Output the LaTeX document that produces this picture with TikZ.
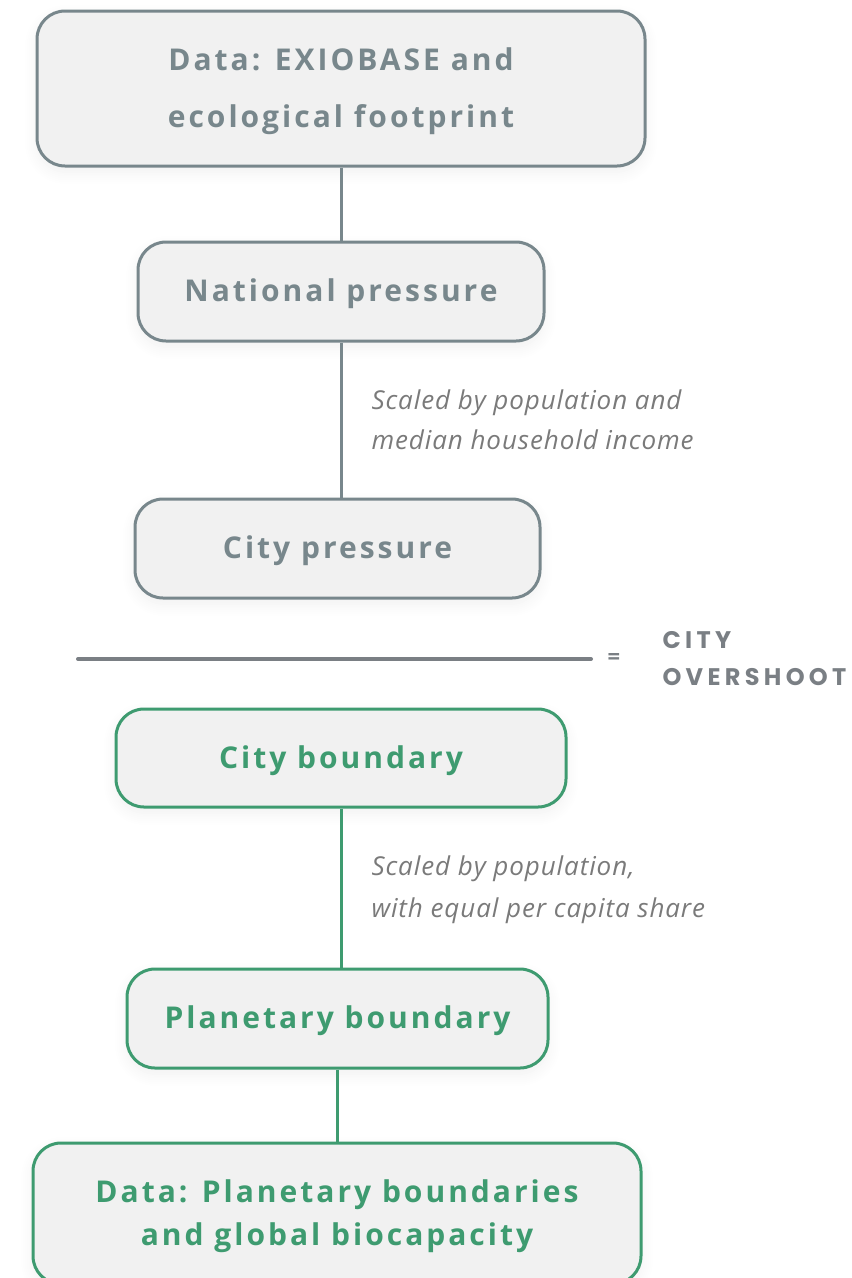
\documentclass[tikz,border=0pt]{standalone}
\usepackage{fontspec}
\setmainfont{Open Sans}
\newfontfamily\boxfont[LetterSpace=10]{Open Sans}
\newfontfamily\notefont[LetterSpace=3.5]{Open Sans}
\newfontfamily\capsfont[LetterSpace=18]{Poppins}
\usetikzlibrary{calc, shadows.blur}
\definecolor{slate}{RGB}{120,135,140}
\definecolor{leaf}{RGB}{62,155,112}
\definecolor{paper}{RGB}{241,241,241}
\definecolor{note}{RGB}{122,122,122}
\definecolor{rule}{RGB}{122,127,132}

\begin{document}
\begin{tikzpicture}[x=1pt,y=-1pt,
		stage/.style={draw, fill=paper, line width=3pt, rounded corners=28pt,
			blur shadow={shadow xshift=0pt, shadow yshift=-6pt, shadow blur radius=14pt,
				shadow opacity=6, shadow blur steps=8},
			align=center, inner sep=0pt, execute at begin node={\rule{0pt}{28pt}},
			font=\boxfont\bfseries\fontsize{30}{57}\selectfont},
		two lines/.style={text depth=2pt},
		grey stage/.style={stage, draw=slate, text=slate},
		green stage/.style={stage, draw=leaf, text=leaf},
		link/.style={line width=3pt},
		remark/.style={anchor=west, align=left, text=note,
			font=\notefont\itshape\fontsize{26}{40}\selectfont}]
		\useasboundingbox (0,0) rectangle (852,1278);
		% pressure side
		\node[grey stage, two lines, minimum width=608pt, minimum height=155pt] (footprint) at (341,88.5)
			{Data: EXIOBASE and\\ecological footprint};
		\node[grey stage, minimum width=406pt, minimum height=99pt] (national) at (341,291.5)
			{National pressure};
		\node[grey stage, minimum width=405pt, minimum height=99pt] (citypress) at (337.5,548.5)
			{City pressure};
		\draw[link, slate] (footprint.south) -- (footprint.south |- national.north);
		\draw[link, slate] (national.south) -- (national.south |- citypress.north);
		\node[remark] (scalepress) at (368,420) {Scaled by population and\\median household income};
		% fraction bar
		\coordinate (barleft) at (78,659);
		\coordinate (barright) at (591,659);
		\draw[rule, line width=4pt, line cap=round] (barleft) -- (barright);
		\node[text=rule, font=\bfseries\fontsize{22}{22}\selectfont] (equals) at (614,659) {=};
		\node[anchor=west, align=left, text=rule, font=\capsfont\bfseries\fontsize{24}{37}\selectfont]
			(overshoot) at (659,659) {CITY\\OVERSHOOT};
		% boundary side
		\node[green stage, minimum width=450pt, minimum height=98pt] (citybound) at (341,758)
			{City boundary};
		\node[green stage, minimum width=421pt, minimum height=99pt] (planet) at (337.5,1018.5)
			{Planetary boundary};
		\node[green stage, two lines, minimum width=608pt, minimum height=141pt,
			font=\boxfont\bfseries\fontsize{30}{43}\selectfont] (biocap) at (337,1213.5)
			{Data: Planetary boundaries\\and global biocapacity};
		\draw[link, leaf] (citybound.south) -- (citybound.south |- planet.north);
		\draw[link, leaf] (planet.south) -- (planet.south |- biocap.north);
		\node[remark, font=\notefont\itshape\fontsize{26}{42}\selectfont] (scalebound) at (368,890)
			{Scaled by population,\\with equal per capita share};
	\end{tikzpicture}
\end{document}
